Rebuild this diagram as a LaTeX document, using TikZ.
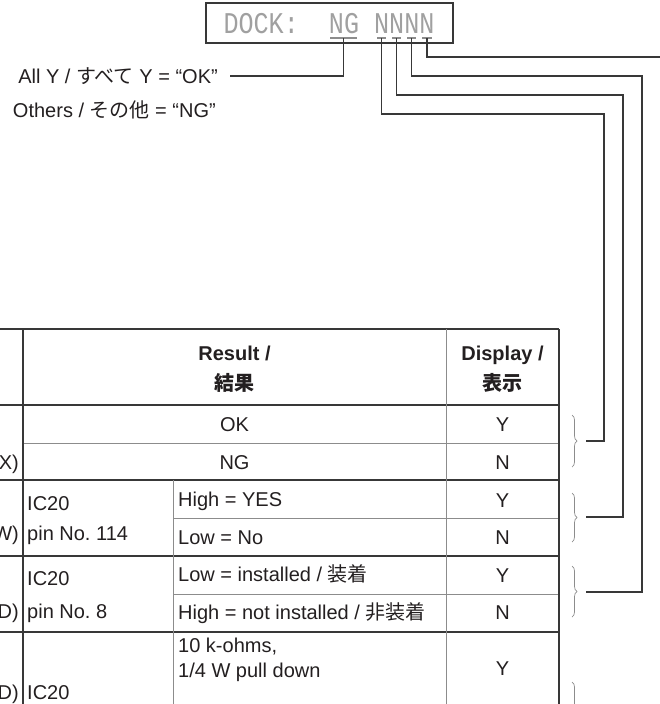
\documentclass[tikz,border=0pt]{standalone}
\usepackage{fontspec}
\usepackage{graphicx}
\setmainfont{Liberation Sans}
\newfontfamily\jp{Noto Sans CJK JP}
\newfontfamily\lcdfont{Liberation Mono}
\usetikzlibrary{decorations.pathreplacing}
\definecolor{ink}{HTML}{231F20}
\definecolor{rule}{HTML}{383838}
\definecolor{thin}{HTML}{8C8C8C}
\definecolor{lcdgray}{HTML}{A0A0A0}
\frenchspacing
\begin{document}
\begin{tikzpicture}[x=1pt,y=-1pt,
  txt/.style={inner sep=0pt, font=\fontsize{20}{24}\selectfont, text=ink},
  hdr/.style={inner sep=0pt, font=\fontsize{20}{24}\selectfont\bfseries, text=ink},
  darkrule/.style={draw=rule, line width=1.3pt},
  lightrule/.style={draw=thin, line width=1pt},
  wire/.style={draw=rule, line width=1.2pt},
  uline/.style={draw=thin, line width=2pt},
  brc/.style={draw=thin, line width=0.7pt, decorate, decoration={brace, amplitude=5pt}}
]
\useasboundingbox (0,0) rectangle (660,704);
\clip (0,0) rectangle (660,704);

% LCD display
\node[draw=rule, line width=1.2pt, minimum width=247pt, minimum height=40pt, inner sep=0pt] (lcd) at (329.5,23) {};
\node[inner sep=0pt, text=lcdgray, font=\lcdfont\fontsize{25.1}{25}\selectfont] (lcdtxt) at (329,24)
  {\scalebox{1}[1.2]{DOCK:~~NG~NNNN}};
\draw[uline] (330,38) -- (357,38);
\draw[uline] (377,38) -- (386,38);
\draw[uline] (392,38) -- (401,38);
\draw[uline] (407,38) -- (416,38);
\draw[uline] (422,38) -- (432,38);
\coordinate (ung) at (343.5,38);
\coordinate (u1) at (381.5,38);
\coordinate (u2) at (396.5,38);
\coordinate (u3) at (411.5,38);
\coordinate (u4) at (427,38);

% labels
\node[txt, anchor=base east] (ally) at (218,83) {All Y / {\jp すべて} Y = “OK”};
\node[txt, anchor=base east] (others) at (216,117) {Others / {\jp その他} = “NG”};
\coordinate (allyend) at (230,76);

% table rules
\draw[darkrule] (-5,329) -- (559,329);
\draw[darkrule, line width=1.6pt] (-5,405) -- (559,405);
\draw[lightrule] (23,443) -- (559,443);
\draw[darkrule] (-5,480) -- (559,480);
\draw[lightrule] (173,518) -- (559,518);
\draw[darkrule] (-5,556) -- (559,556);
\draw[lightrule] (173,594) -- (559,594);
\draw[darkrule] (-5,632) -- (559,632);
\draw[darkrule] (23,329) -- (23,710);
\draw[lightrule] (173,480) -- (173,710);
\draw[lightrule] (446,329) -- (446,710);
\draw[darkrule] (559,329) -- (559,710);

% header
\node[hdr, anchor=base] (hres1) at (234.5,360) {Result /};
\node[hdr, anchor=base] (hres2) at (234.5,390) {\jp 結果};
\node[hdr, anchor=base] (hdis1) at (502.5,360) {Display /};
\node[hdr, anchor=base] (hdis2) at (502.5,390) {\jp 表示};

% row 1
\node[txt, anchor=base] (ok) at (234.5,431) {OK};
\node[txt, anchor=base] (ng) at (234.5,469) {NG};
\node[txt, anchor=base east] (lx) at (19,469) {X)};
\node[txt, anchor=base] (d1) at (502.5,431) {Y};
\node[txt, anchor=base] (d2) at (502.5,469) {N};

% row 2
\node[txt, anchor=base east] (lw) at (19,540) {W)};
\node[txt, anchor=base west] (ic1a) at (27,510) {IC20};
\node[txt, anchor=base west] (ic1b) at (27,540) {pin No. 114};
\node[txt, anchor=base west] (r2a) at (178,506) {High = YES};
\node[txt, anchor=base west] (r2b) at (178,544) {Low = No};
\node[txt, anchor=base] (d3) at (502.5,507) {Y};
\node[txt, anchor=base] (d4) at (502.5,544) {N};

% row 3
\node[txt, anchor=base east] (ld1) at (19,618) {D)};
\node[txt, anchor=base west] (ic2a) at (27,585) {IC20};
\node[txt, anchor=base west] (ic2b) at (27,618) {pin No. 8};
\node[txt, anchor=base west] (r3a) at (178,581) {Low = installed / {\jp 装着}};
\node[txt, anchor=base west] (r3b) at (178,619) {High = not installed / {\jp 非装着}};
\node[txt, anchor=base] (d5) at (502.5,582) {Y};
\node[txt, anchor=base] (d6) at (502.5,619) {N};

% row 4
\node[txt, anchor=base east] (ld2) at (19,699) {D)};
\node[txt, anchor=base west] (ic3a) at (27,699) {IC20};
\node[txt, anchor=base west] (r4a) at (178,652) {10 k-ohms,};
\node[txt, anchor=base west] (r4b) at (178,677) {1/4 W pull down};
\node[txt, anchor=base] (d7) at (502.5,675) {Y};

% braces
\draw[brc] (572,415) -- (572,467);
\draw[brc] (572,493) -- (572,542);
\draw[brc] (572,566) -- (572,617);
\draw[brc] (572,682) -- (572,790);
\coordinate (b1) at (586,441);
\coordinate (b2) at (586,517);
\coordinate (b3) at (586,592);
\coordinate (off4) at (670,57);

% connectors
\draw[wire] (ung) |- (allyend);
\draw[wire] (u1) |- (604,114) |- (b1);
\draw[wire] (u2) |- (623,95) |- (b2);
\draw[wire] (u3) |- (642,76) |- (b3);
\draw[wire] (u4) |- (off4);
\end{tikzpicture}
\end{document}
